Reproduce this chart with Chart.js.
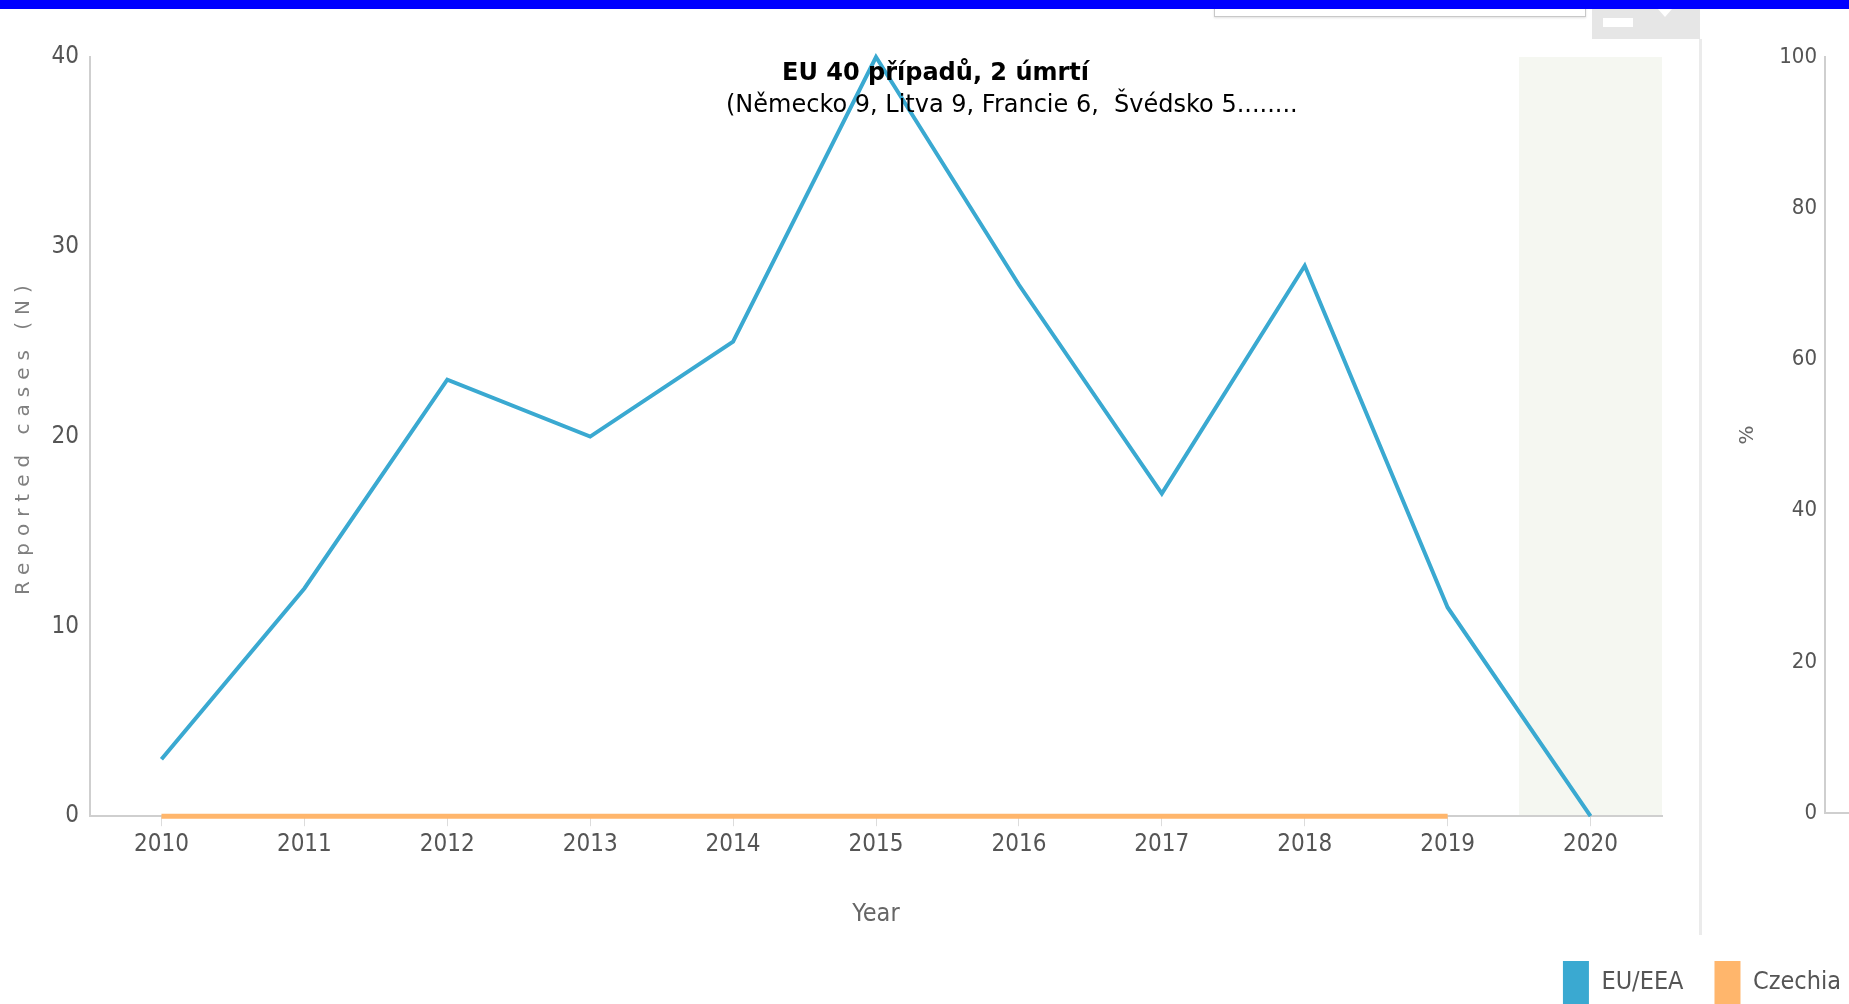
<!DOCTYPE html>
<html>
<head>
<meta charset="utf-8">
<title>Reported cases</title>
<script src="https://cdn.jsdelivr.net/npm/chart.js@4.4.0/dist/chart.umd.min.js"></script>
<style>
html,body{margin:0;padding:0;overflow:hidden;background:#fff;width:1849px;height:1004px;}
#main{position:absolute;left:0;top:0;}
#pct{position:absolute;left:1701px;top:0;}
.topbar{position:absolute;left:0;top:0;width:1849px;height:9px;background:#0000ff;z-index:5;}
.selbox{position:absolute;left:1214px;top:-4px;width:370px;height:19px;border:1px solid #c8c8c8;background:#fff;box-shadow:0 1px 2px #e0e0e0;}
.btnbox{position:absolute;left:1592px;top:0;width:108px;height:39px;background:#e6e6e6;}
.btnbox .dash{position:absolute;left:11px;top:18px;width:30px;height:9px;background:#fff;}
.btnbox .tri{position:absolute;left:66px;top:9px;width:0;height:0;border-left:7px solid transparent;border-right:7px solid transparent;border-top:8px solid #fff;}
.sep{position:absolute;left:1699px;top:39px;width:3px;height:896px;background:#ebebeb;}
.note{position:absolute;color:#000;white-space:pre;font-family:'DejaVu Sans',sans-serif;z-index:4;}
</style>
</head>
<body>
<canvas id="main" width="1872" height="1014"></canvas>
<canvas id="pct" width="148" height="1004"></canvas>
<div class="topbar"></div>
<div class="selbox"></div>
<div class="btnbox"><div class="dash"></div><div class="tri"></div></div>
<div class="sep"></div>
<div class="note" style="left:782px;top:58px;font-size:24px;font-weight:bold;">EU 40 případů, 2 úmrtí</div>
<div class="note" style="left:726px;top:90px;font-size:24px;">(Německo 9, Litva 9, Francie 6,  Švédsko 5........</div>
<script>
// data
const years = ['2010','2011','2012','2013','2014','2015','2016','2017','2018','2019','2020'];
const euCases = [3,12,23,20,25,40,28,17,29,11,0];
const czCases = [0,0,0,0,0,0,0,0,0,0,null];
const seriesNames = ['EU/EEA','Czechia'];
const seriesColors = ['#3aa9d1','#ffb66c'];
const casesMax = 40, casesStep = 10;
const pctMax = 100, pctStep = 20;
const shadedYears = ['2020'];

const narrow = "'Liberation Sans Narrow','DejaVu Sans Condensed',sans-serif";
Chart.defaults.font.family = narrow;
Chart.defaults.color = '#555';

// grey band behind the unfinished year
const bandPlugin = {
  id: 'band',
  beforeDraw(chart){
    const {ctx, chartArea, scales:{x}} = chart;
    const half = (x.getPixelForValue(1) - x.getPixelForValue(0)) / 2;
    ctx.save();
    ctx.fillStyle = '#f5f7f1';
    shadedYears.forEach(yr=>{
      const cx = x.getPixelForValue(years.indexOf(yr));
      ctx.fillRect(cx-half, chartArea.top, half*2, chartArea.bottom-chartArea.top);
    });
    ctx.restore();
  }
};

// wide letter spacing on the y title
const spacedTitle = {
  id: 'spacedTitle',
  beforeDraw(chart){
    const s = chart.scales.y;
    if(s && !s._spaced){
      const orig = s.drawTitle.bind(s);
      s.drawTitle = function(){ const c=this.ctx; c.save(); c.letterSpacing='7px'; orig(); c.restore(); };
      s._spaced = true;
    }
  }
};

new Chart(document.getElementById('main'),{
  type:'line',
  data:{
    labels: years,
    datasets:[
      {label:seriesNames[0], data:euCases, borderColor:seriesColors[0], backgroundColor:seriesColors[0], borderWidth:4, pointRadius:0, tension:0, clip:6},
      {label:seriesNames[1], data:czCases, borderColor:seriesColors[1], backgroundColor:seriesColors[1], borderWidth:5, pointRadius:0, tension:0, clip:6}
    ]
  },
  options:{
    responsive:false,
    animation:false,
    layout:{padding:{top:57,left:0,right:0,bottom:0}},
    plugins:{
      tooltip:{enabled:false},
      legend:{
        position:'bottom', align:'end',
        labels:{
          boxWidth:26, boxHeight:43, padding:31, color:'#555',
          font:{size:25, family:narrow},
          generateLabels(chart){
            return Chart.defaults.plugins.legend.labels.generateLabels(chart).map(l=>Object.assign(l,{lineWidth:0}));
          }
        }
      }
    },
    scales:{
      x:{
        offset:true,
        grid:{display:true, drawOnChartArea:false, drawTicks:true, tickLength:10, color:'#dcdcdc', offset:false},
        border:{display:true, color:'#cfcfcf', width:2},
        ticks:{padding:4, font:{size:24}, color:'#555', maxRotation:0, autoSkip:false},
        title:{display:true, text:'Year', color:'#666', font:{size:25}, padding:{top:36,bottom:1}}
      },
      y:{
        min:0, max:casesMax,
        grid:{display:false, drawTicks:false},
        border:{display:true, color:'#cfcfcf', width:2},
        ticks:{stepSize:casesStep, padding:11, font:{size:24}, color:'#555'},
        title:{display:true, text:'Reported cases (N)', color:'#7f7f7f', font:{size:20, family:"'DejaVu Sans',sans-serif"}, padding:{top:12,bottom:0}},
        afterFit(s){ s.width = 90; }
      },
      rightPanel:{
        type:'linear', position:'right', display:true,
        grid:{display:false, drawTicks:false},
        border:{display:false},
        ticks:{display:false},
        afterFit(s){ s.width = 210; }
      }
    }
  },
  plugins:[bandPlugin, spacedTitle]
});

// separate percentage axis panel on the right
new Chart(document.getElementById('pct'),{
  type:'line',
  data:{labels:[], datasets:[]},
  options:{
    responsive:false,
    animation:false,
    layout:{padding:{top:57,left:0,right:0,bottom:191}},
    plugins:{legend:{display:false}, tooltip:{enabled:false}},
    scales:{
      x:{
        type:'linear', min:0, max:1,
        grid:{display:false, drawTicks:false},
        border:{display:true, color:'#cfcfcf', width:2},
        ticks:{display:false}
      },
      y:{
        min:0, max:pctMax,
        grid:{display:false, drawTicks:false},
        border:{display:true, color:'#cfcfcf', width:2},
        ticks:{stepSize:pctStep, padding:8, color:'#555', font:{size:22, family:"'DejaVu Sans Condensed',sans-serif"}},
        title:{display:true, text:'%', color:'#666', font:{size:20, family:"'DejaVu Sans',sans-serif"}, padding:{top:35,bottom:0}},
        afterFit(s){ s.width = 124; }
      }
    }
  }
});
</script>
</body>
</html>
